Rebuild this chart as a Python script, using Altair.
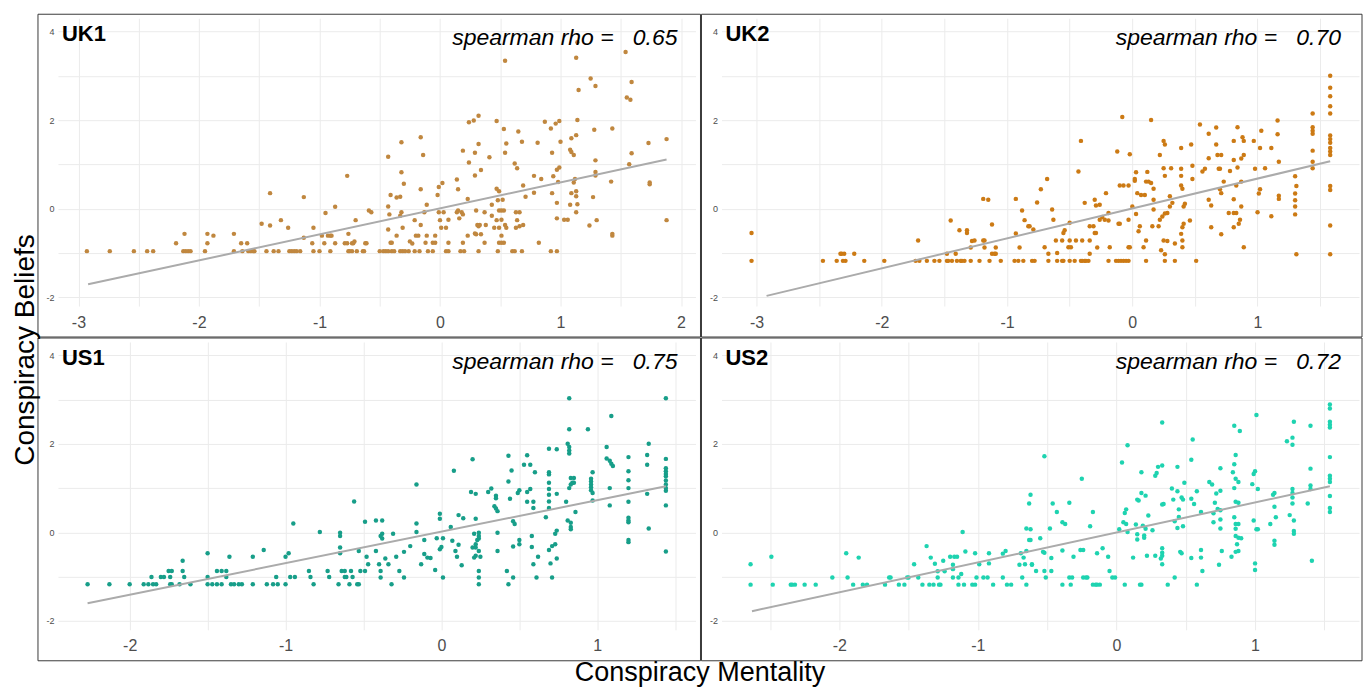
import altair as alt
import pandas as pd

# ---------------- data ----------------
UK1_POINTS = [
    (-2.93,-0.96),(-2.74,-0.96),(-2.54,-0.96),(-2.43,-0.96),(-2.38,-0.96),(-2.19,-0.78),(-2.13,-0.96),(-2.12,-0.57),
    (-2.11,-0.96),(-2.09,-0.96),(-2.07,-0.96),(-1.95,-0.96),(-1.93,-0.78),(-1.93,-0.57),(-1.88,-0.61),(-1.71,-0.57),
    (-1.71,-0.96),(-1.65,-0.78),(-1.64,-0.96),(-1.60,-0.78),(-1.59,-0.96),(-1.57,-0.96),(-1.55,-0.96),(-1.54,-0.96),
    (-1.48,-0.34),(-1.44,-0.96),(-1.41,0.35),(-1.41,-0.38),(-1.38,-0.96),(-1.34,-0.96),(-1.32,-0.26),(-1.26,-0.43),
    (-1.25,-0.96),(-1.23,-0.96),(-1.21,-0.96),(-1.19,-0.96),(-1.16,-0.96),(-1.13,0.26),(-1.13,-0.66),(-1.06,-0.78),
    (-1.05,-0.43),(-1.05,-0.96),(-1.00,-0.96),(-0.98,-0.61),(-0.96,-0.78),(-0.95,-0.10),(-0.93,-0.61),(-0.91,-0.61),
    (-0.91,-0.96),(-0.90,-0.61),(-0.87,0.04),(-0.87,-0.78),(-0.79,-0.78),(-0.77,-0.78),(-0.77,0.74),(-0.76,-0.57),
    (-0.76,-0.96),(-0.75,-0.96),(-0.73,-0.78),(-0.73,-0.96),(-0.72,-0.78),(-0.71,-0.74),(-0.70,-0.26),(-0.69,-0.96),
    (-0.64,-0.96),(-0.63,-0.96),(-0.62,-0.78),(-0.61,-0.78),(-0.59,-0.04),(-0.57,-0.08),
    (1.14,3.76),(1.13,3.41),(0.54,3.34),(1.54,3.54),(1.25,2.94),(1.29,2.77),(1.15,2.68),(1.59,2.86),(1.55,2.51),(1.58,2.46),
    (0.32,2.10),(0.28,1.99),(0.24,1.95),(0.47,1.98),(0.53,1.80),(0.65,1.74),(0.87,1.96),(0.92,1.81),(0.96,1.92),(0.99,1.98),
    (1.14,2.00),(1.13,1.66),(1.09,1.59),(1.28,1.78),(1.43,1.81),
    (-0.32,1.50),(-0.16,1.61),(-0.14,1.21),(-0.43,1.17),(0.19,1.31),(0.32,1.46),(0.29,1.26),(0.41,1.16),(0.55,1.47),
    (0.54,1.26),(0.68,1.51),(0.81,1.49),(1.00,1.51),(0.93,1.26),(1.08,1.33),(1.09,1.28),(1.11,1.21),(1.29,1.09),
    (1.59,1.25),(1.73,1.48),(1.88,1.57),
    (-0.32,0.82),(-0.30,0.56),(-0.16,0.44),(0.24,1.04),(0.34,0.87),(0.29,0.75),(0.14,0.66),(0.15,0.44),(0.02,0.58),
    (-0.01,0.49),(0.62,1.02),(0.64,0.91),(0.78,0.74),(0.84,0.67),(0.69,0.52),(0.71,0.27),(0.78,0.36),(0.47,0.45),
    (0.49,0.39),(0.48,0.19),(0.52,0.20),(0.94,0.73),(0.97,0.88),(0.99,0.93),(0.98,0.60),(0.93,0.35),(0.97,0.13),
    (0.97,-0.22),(1.03,-0.25),(1.06,-0.25),(1.09,0.35),(1.11,0.59),(1.12,0.67),(1.13,0.39),(1.13,0.28),(1.14,0.10),
    (1.13,-0.08),(1.08,0.09),(1.27,0.26),(1.29,0.83),(1.29,0.75),(1.42,0.61),(1.57,1.00),(1.74,0.59),(1.74,0.55),
    (1.24,-0.38),(1.30,-0.26),(1.43,-0.57),(1.43,-0.61),(1.88,-0.26),
    (-0.41,0.31),(-0.43,0.05),(-0.42,-0.13),(-0.43,-0.47),(-0.41,-0.77),(-0.40,-0.77),(-0.36,0.25),(-0.33,0.27),
    (-0.32,-0.08),(-0.33,-0.16),(-0.31,-0.43),(-0.36,-0.61),(-0.25,-0.74),(-0.23,-0.79),(-0.21,-0.26),(-0.20,-0.61),
    (-0.18,-0.61),(-0.16,-0.37),(-0.13,-0.08),(-0.11,0.09),(-0.11,-0.61),(-0.12,-0.77),(-0.06,-0.77),(-0.04,-0.77),
    (-0.04,-0.61),(-0.02,0.31),(-0.01,-0.08),(0.00,-0.26),(0.01,-0.43),(0.03,-0.08),(0.05,-0.43),(0.07,-0.25),
    (0.07,-0.77),(0.14,-0.08),(0.15,-0.04),(0.16,-0.22),(0.18,-0.08),(0.19,-0.13),(0.19,-0.77),(0.23,0.22),
    (0.23,-0.61),(0.30,-0.04),(0.31,-0.37),(0.32,-0.40),(0.33,-0.37),(0.29,-0.56),(0.30,-0.58),(0.34,-0.58),
    (0.37,-0.08),(0.37,-0.77),(0.38,-0.37),(0.43,0.09),(0.43,-0.16),(0.45,-0.43),(0.47,-0.26),(0.49,-0.43),
    (0.49,-0.04),(0.51,-0.04),(0.53,-0.04),(0.51,-0.25),(0.54,-0.37),(0.55,-0.43),(0.51,-0.61),(0.49,-0.77),
    (0.51,-0.77),(0.53,-0.77),(0.63,-0.08),(0.66,-0.08),(0.64,-0.26),(0.63,-0.43),(0.66,-0.40),(0.69,-0.37),(0.82,-0.77),
    (-0.50,-0.96),(-0.47,-0.96),(-0.45,-0.96),(-0.43,-0.96),(-0.40,-0.96),(-0.38,-0.96),(-0.33,-0.96),(-0.31,-0.96),
    (-0.29,-0.96),(-0.26,-0.96),(-0.21,-0.96),(-0.17,-0.96),(-0.10,-0.96),(-0.06,-0.96),(0.05,-0.96),(0.07,-0.96),
    (0.17,-0.96),(0.20,-0.96),(0.32,-0.96),(0.48,-0.96),(0.60,-0.96),(0.62,-0.96),(0.68,-0.96),(0.92,-0.96),(0.97,-0.96),
]

UK2_POINTS = [
    (-3.04,-0.55),(-3.04,-1.18),(-2.47,-1.18),(-2.36,-1.18),(-2.33,-1.02),(-2.32,-1.02),(-2.30,-1.02),(-2.31,-1.18),
    (-2.29,-1.18),(-2.22,-1.02),(-2.14,-1.18),(-1.98,-1.18),(-1.73,-1.18),(-1.71,-0.72),(-1.70,-1.18),(-1.64,-1.18),
    (-1.58,-1.18),(-1.54,-1.18),(-1.48,-1.18),(-1.48,-1.02),(-1.47,-1.18),(-1.45,-0.27),(-1.44,-1.18),(-1.41,-1.02),
    (-1.40,-1.18),(-1.38,-0.49),(-1.37,-1.18),(-1.36,-1.18),(-1.34,-1.18),(-1.32,-0.49),(-1.32,-0.55),(-1.29,-0.88),
    (-1.29,-1.18),(-1.28,-0.73),(-1.26,-0.72),(-1.22,-1.18),(-1.19,0.22),(-1.19,-0.72),(-1.18,-0.72),(-1.18,-0.88),
    (-1.15,0.20),(-1.14,-1.18),(-1.12,-0.36),(-1.12,-1.02),(-1.10,-1.02),(-1.09,-1.02),(-1.09,-0.88),(-1.05,-1.18),
    (-0.94,-1.18),(-0.93,0.22),(-0.93,-0.56),(-0.91,-1.18),(-0.90,-0.88),(-0.88,-0.04),(-0.87,-1.18),(-0.86,-0.26),
    (-0.83,-0.40),(-0.80,-1.18),
    (1.58,3.00),(1.58,2.73),(1.58,2.54),(1.58,2.31),(1.58,2.15),(1.58,1.65),(1.58,1.57),(1.58,1.49),(1.58,1.37),
    (1.58,1.29),(1.58,1.21),(1.58,0.51),(1.58,0.42),(1.58,-0.38),(1.58,-1.03),
    (1.44,2.15),(1.44,1.84),(1.44,1.76),(1.44,1.69),(1.44,1.31),(1.44,1.06),(1.44,0.91),
    (1.30,0.73),(1.31,0.51),(1.30,0.34),(1.30,0.19),(1.30,0.05),(1.30,-0.13),(1.31,-1.03),
    (1.16,1.99),(1.16,1.68),(1.17,1.06),(1.17,0.29),(1.17,0.22),(1.11,1.37),(1.11,-0.17),
    (1.03,1.76),(0.97,1.53),(1.02,1.37),(1.06,0.91),(0.98,0.90),(1.02,0.44),(1.01,0.34),(1.00,-0.08),
    (0.84,1.84),(0.88,1.61),(0.89,1.53),(0.81,1.53),(0.81,1.10),(0.89,1.21),(0.87,1.13),(0.84,0.93),(0.78,0.85),
    (0.87,0.61),(0.83,0.52),(0.81,0.21),(0.87,0.05),(0.77,-0.10),(0.81,-0.10),(0.83,-0.10),(0.86,-0.25),(0.85,-0.34),
    (0.81,-0.42),(0.89,-0.87),
    (0.67,1.83),(0.61,1.69),(0.67,1.45),(0.68,1.21),(0.71,1.21),(0.61,1.14),(0.70,0.90),(0.69,0.90),(0.58,0.90),
    (0.56,0.84),(0.73,0.61),(0.70,0.44),(0.71,0.35),(0.61,0.20),(0.63,0.07),(0.63,-0.42),(0.71,-0.58),
    (0.54,1.90),(0.47,1.45),(0.39,1.37),(0.48,0.97),(0.48,0.67),(0.39,0.90),(0.39,0.74),(0.39,0.52),(0.40,0.45),
    (0.42,0.11),(0.41,0.05),(0.46,-0.27),(0.41,-0.34),(0.40,-0.42),(0.39,-0.57),(0.40,-0.72),(0.40,-0.87),(0.51,-1.18),
    (0.25,1.53),(0.26,1.45),(0.22,1.21),(0.25,0.91),(0.26,0.74),(0.31,0.91),(0.30,0.28),(0.32,0.13),(0.30,0.05),
    (0.28,-0.10),(0.26,-0.11),(0.24,-0.18),(0.22,-0.25),(0.21,-0.40),(0.25,-0.72),(0.28,-0.73),(0.34,-0.79),
    (0.26,-1.03),(0.23,-0.94),(0.26,-1.18),(0.34,-1.18),
    (0.15,2.00),(0.12,0.83),(0.11,0.61),(0.13,0.61),(0.15,0.58),(0.17,0.45),(0.10,0.31),(0.07,0.31),(0.17,0.20),
    (0.17,-0.02),(0.16,-0.40),(0.11,-0.72),(0.09,-0.87),(0.06,-0.40),(0.05,-0.51),(0.03,-0.12),(0.04,0.35),
    (0.02,0.67),(0.03,0.82),(0.02,0.63),(0.00,0.05),(-0.03,-0.25),(-0.03,-0.87),(-0.02,-0.87),(0.11,-1.18),
    (-0.08,2.07),(-0.02,1.23),(-0.12,1.29),(-0.10,0.52),(-0.07,0.52),(-0.03,0.52),(-0.11,-0.34),(-0.10,-0.34),
    (-0.13,-1.18),(-0.11,-1.18),(-0.09,-1.18),(-0.07,-1.18),(-0.05,-1.18),(-0.03,-1.18),
    (-0.21,0.35),(-0.19,-0.10),(-0.19,-0.27),(-0.18,-0.87),(-0.19,-1.18),
    (-0.41,1.53),(-0.43,0.84),(-0.38,0.13),(-0.30,0.20),(-0.29,0.07),(-0.26,0.09),(-0.26,-0.25),(-0.24,-0.19),
    (-0.22,-0.25),(-0.34,-0.40),(-0.31,-0.40),(-0.30,-0.55),(-0.29,-0.55),(-0.28,-0.88),(-0.34,-0.72),(-0.34,-1.02),
    (-0.40,-0.72),(-0.45,-0.72),(-0.41,-1.18),(-0.40,-1.18),(-0.38,-1.18),(-0.37,-1.18),(-0.35,-1.18),
    (-0.50,-0.72),(-0.51,-0.87),(-0.49,-0.87),(-0.50,-0.32),(-0.55,-0.55),(-0.54,-0.49),(-0.56,-0.72),(-0.55,-1.18),
    (-0.50,-1.18),(-0.46,-1.18),(-0.61,-0.72),(-0.60,-1.00),(-0.63,-0.25),(-0.64,-0.02),(-0.68,0.67),(-0.73,0.44),
    (-0.76,0.14),(-0.70,-0.87),(-0.67,-1.02),(-0.60,-1.18),(-0.56,-1.18),(-0.67,-1.18),(-0.78,-1.18),(-0.79,-0.47),(-0.82,-0.40),
]

US1_POINTS = [
    (-2.27,-1.17),(-2.13,-1.17),(-2.00,-1.17),(-1.91,-1.17),(-1.88,-1.17),(-1.86,-1.01),(-1.85,-1.17),(-1.83,-1.17),
    (-1.80,-1.01),(-1.78,-1.01),(-1.75,-0.87),(-1.74,-1.01),(-1.74,-1.17),(-1.73,-0.87),(-1.73,-1.17),(-1.68,-1.17),
    (-1.66,-0.64),(-1.66,-0.87),(-1.65,-1.01),(-1.61,-1.17),(-1.50,-0.47),(-1.50,-1.01),(-1.50,-1.17),(-1.47,-1.17),
    (-1.44,-0.87),(-1.44,-1.17),(-1.41,-0.87),(-1.41,-1.17),(-1.38,-0.87),(-1.38,-1.01),(-1.36,-0.55),(-1.35,-1.17),
    (-1.33,-1.17),(-1.30,-1.17),(-1.28,-1.17),(-1.21,-0.55),(-1.21,-1.17),(-1.14,-0.40),(-1.12,-1.17),(-1.08,-1.17),
    (-1.06,-1.01),(-1.05,-1.17),(-1.00,-0.55),(-1.00,-1.17),(-0.98,-0.47),(-0.97,-1.01),(-0.95,0.20),(-0.94,-1.01),
    (-0.85,-0.87),(-0.84,-1.01),(-0.82,-1.17),(-0.78,0.01),(-0.73,-0.87),(-0.72,-1.01),(-0.66,-1.17),(-0.65,-0.01),
    (-0.65,-0.08),(-0.65,-0.34),(-0.65,-0.47),(-0.64,-0.87),(-0.62,-0.87),(-0.62,-1.01),(-0.61,-1.01),(-0.59,-1.17),
    (-0.58,-0.87),(-0.57,-1.01),(-0.56,0.70),(-0.54,-1.17),(-0.53,-1.17),(-0.53,-0.42),(-0.52,-0.87),(-0.49,0.24),
    (-0.48,-0.55),(-0.47,-0.72),(-0.49,-0.87),
    (0.82,3.03),(1.44,3.03),(1.09,2.63),(0.82,2.33),(0.94,2.33),(0.81,2.00),(0.82,1.93),(0.82,1.85),(0.82,1.78),
    (0.69,1.89),(0.74,1.88),(1.06,1.93),(1.06,1.67),(1.08,1.62),(1.09,1.55),(1.10,1.50),(1.33,2.00),(1.32,1.75),(1.32,1.53),
    (1.20,1.70),(1.20,1.38),(1.20,1.18),(1.20,1.00),(1.20,0.69),(1.20,0.33),(1.20,0.27),(1.20,0.23),(1.20,-0.17),(1.20,-0.22),
    (1.44,1.66),(1.44,1.45),(1.44,1.38),(1.44,1.32),(1.44,1.27),(1.44,1.17),(1.44,1.08),(1.44,1.00),(1.44,0.94),
    (1.44,0.61),(1.44,-0.43),(1.32,0.87),(1.33,0.09),
    (0.20,1.65),(0.08,1.39),(-0.16,1.08),(0.19,0.91),(0.22,0.87),(0.30,0.91),(0.32,0.99),(0.35,0.83),(0.35,0.77),
    (0.34,0.59),(0.35,0.54),(0.36,0.48),(0.43,1.73),(0.45,1.40),(0.43,1.15),(0.44,0.76),
    (0.55,1.74),(0.53,1.53),(0.57,1.53),(0.60,1.36),(0.57,0.98),(0.55,0.91),(0.55,0.69),(0.59,0.69),(0.59,0.55),
    (0.50,0.95),(0.49,0.89),(0.69,1.36),(0.69,1.31),(0.69,1.12),(0.69,0.98),(0.69,0.85),(0.69,0.70),(0.69,0.55),
    (0.74,0.87),(0.80,0.69),(0.83,1.23),(0.84,1.12),(0.82,1.00),(0.83,1.08),(0.85,1.23),(0.85,1.12),(0.86,0.46),
    (0.81,0.27),(0.83,0.22),(0.83,0.12),(0.83,0.07),
    (0.96,1.21),(0.96,1.15),(0.96,1.08),(0.96,1.02),(0.96,0.95),(0.97,0.89),(0.97,0.72),(0.97,1.36),(1.08,1.00),(1.08,0.61),
    (0.67,0.34),(0.74,0.04),(0.73,-0.03),(0.73,-0.27),(0.71,-0.31),(0.69,-0.40),(0.70,-0.70),(0.71,-1.02),(0.74,-0.59),
    (0.61,-1.02),(0.58,-0.08),(0.58,-0.33),(0.59,-0.72),(0.62,-0.55),
    (0.46,0.25),(0.47,0.19),(0.46,-0.32),(0.50,-0.17),(0.50,-0.27),(0.46,-1.02),(0.43,-1.17),(0.42,-0.87),(0.36,-0.01),(0.36,-0.42),
    (0.22,0.31),(0.21,-0.03),(0.24,-0.01),(0.24,-0.08),(0.24,-0.14),(0.23,-0.17),(0.20,-0.34),(0.22,-0.34),(0.22,-0.27),
    (0.24,-0.42),(0.22,-0.53),(0.21,-0.57),(0.25,-0.55),(0.24,-0.87),(0.24,-1.02),(0.24,-1.17),
    (0.11,0.39),(0.14,0.32),(0.06,0.12),(0.07,-0.19),(0.09,-0.42),(0.11,-0.28),(0.10,-0.55),(0.13,-0.74),
    (-0.01,0.42),(-0.01,0.31),(-0.03,-0.13),(0.01,-0.13),(-0.01,-0.38),(0.00,-0.33),(0.01,-1.02),(-0.04,-0.85),
    (-0.16,0.20),(-0.16,0.01),(-0.11,-0.17),(-0.11,-0.49),(-0.09,-0.57),(-0.07,-0.58),(-0.13,-0.72),(-0.20,-0.31),
    (-0.24,-0.44),(-0.29,-0.55),(-0.27,-0.87),(-0.24,-1.02),(-0.32,-1.17),(-0.34,-0.72),(-0.36,-0.59),(-0.39,-0.87),
    (-0.39,-1.02),(-0.40,-0.72),(-0.38,-0.14),(-0.39,-0.08),(-0.38,-0.03),(-0.42,0.27),(-0.38,0.27),(-0.42,-0.42),(-0.31,-0.03),
]

US2_POINTS = [
    (-2.64,-0.72),(-2.64,-1.18),(-2.49,-0.55),(-2.48,-1.18),(-2.35,-1.18),(-2.34,-1.18),(-2.32,-1.18),(-2.25,-1.18),
    (-2.17,-1.18),(-2.05,-1.02),(-1.95,-0.47),(-1.94,-1.02),(-1.90,-1.18),(-1.86,-0.57),(-1.83,-1.18),(-1.80,-1.18),
    (-1.67,-1.18),(-1.64,-1.02),(-1.63,-1.02),(-1.57,-1.18),(-1.53,-1.18),(-1.51,-1.02),(-1.50,-1.02),(-1.46,-0.72),
    (-1.43,-1.02),(-1.40,-1.18),(-1.37,-0.31),(-1.35,-1.18),(-1.32,-1.18),(-1.34,-0.57),(-1.31,-0.71),(-1.29,-0.88),
    (-1.29,-1.02),(-1.28,-1.18),(-1.27,-1.18),(-1.25,-0.64),(-1.24,-0.88),(-1.20,-0.55),(-1.18,-1.02),(-1.18,-0.83),
    (-1.18,-0.73),(-1.17,-0.55),(-1.15,-0.55),(-1.14,-1.18),(-1.14,-1.02),(-1.12,-0.94),(-1.11,0.01),(-1.10,-1.18),
    (-1.09,-0.43),(-1.04,-1.18),(-1.02,-1.18),(-1.02,-0.47),(-1.01,-1.02),(-0.99,-0.72),(-0.96,-1.02),(-0.93,-1.02),
    (-0.92,-0.47),(-0.92,-0.70),(-0.89,-1.18),(-0.82,-0.48),(-0.80,-0.42),(-0.82,-1.02),(-0.79,-1.18),(-0.76,-1.18),
    (-0.70,-0.73),(-0.69,-0.47),(-0.68,-1.02),(-0.67,-0.57),(-0.66,-0.72),(-0.65,-1.18),(-0.65,0.09),(-0.63,0.65),
    (-0.63,-0.17),(-0.65,-0.42),(-0.61,-0.73),
    (1.54,2.89),(1.54,2.80),(1.54,2.50),(1.54,2.43),(1.54,2.37),(1.54,1.70),(1.54,1.28),(1.54,1.21),(1.54,1.14),
    (1.54,0.82),(1.54,0.55),(1.54,0.46),
    (1.40,2.41),(1.40,1.44),(1.40,1.06),(1.40,0.98),(1.41,-0.64),(1.38,0.65),
    (1.28,2.50),(1.27,2.14),(1.27,1.98),(1.23,2.06),(1.27,0.98),(1.27,0.89),(1.27,0.79),(1.27,0.65),(1.28,0.27),
    (1.28,0.03),(1.28,-0.03),(1.25,0.39),
    (1.14,0.89),(1.13,0.85),(1.14,0.58),(1.15,0.34),(1.14,-0.19),(1.14,-0.28),(1.11,0.19),
    (1.01,2.65),(1.00,1.38),(0.99,1.32),(0.98,1.09),(1.02,0.98),(0.99,0.27),(1.01,0.07),(1.02,0.07),(1.00,-0.70),(1.00,-0.85),
    (0.85,2.41),(0.89,2.29),(0.86,1.75),(0.85,1.54),(0.84,1.36),(0.86,1.21),(0.88,1.14),(0.85,1.00),(0.86,0.69),
    (0.88,0.67),(0.85,0.34),(0.86,0.19),(0.88,0.19),(0.86,0.08),(0.86,-0.08),(0.88,-0.12),(0.90,-0.13),(0.87,-0.27),
    (0.88,-0.42),(0.86,-0.44),(0.83,-0.55),
    (0.75,1.45),(0.67,1.14),(0.69,1.08),(0.72,0.88),(0.75,0.94),(0.71,0.67),(0.73,0.53),(0.75,0.50),(0.70,0.43),
    (0.75,0.29),(0.70,0.23),(0.75,0.09),(0.76,-0.42),(0.74,-0.73),
    (0.55,2.10),(0.54,1.64),(0.49,1.12),(0.58,0.93),(0.54,0.76),(0.56,0.64),(0.61,0.46),(0.61,-0.40),(0.61,-0.57),
    (0.62,-0.87),(0.54,-0.58),(0.58,-1.18),
    (0.33,2.48),(0.30,1.48),(0.33,1.51),(0.28,1.28),(0.29,1.34),(0.44,1.48),(0.40,0.99),(0.44,0.93),(0.47,0.79),
    (0.48,0.74),(0.41,0.74),(0.34,0.64),(0.33,0.63),(0.45,0.52),(0.45,0.35),(0.42,0.25),(0.48,0.14),(0.44,0.10),
    (0.33,-0.36),(0.33,-0.46),(0.33,-0.53),(0.32,-0.59),(0.33,-0.72),(0.46,-0.44),(0.47,-0.47),(0.42,-1.02),(0.37,-1.18),
    (0.08,1.97),(0.04,1.58),(0.18,1.36),(0.15,0.74),(0.16,0.72),(0.21,0.83),(0.18,0.89),(0.07,0.52),(0.06,0.44),
    (0.05,0.23),(0.07,0.19),(0.08,0.01),(0.14,0.18),(0.19,0.15),(0.21,0.08),(0.20,-0.07),(0.20,-0.12),(0.15,-0.04),
    (0.15,-0.16),(0.23,0.38),(0.26,0.05),(0.22,-0.53),(0.28,-0.53),(0.12,-0.57),(0.17,-1.18),(0.18,-1.18),(0.06,-1.18),(0.02,0.07),
    (-0.03,-1.02),(-0.01,-1.02),(-0.05,-0.87),(-0.06,-0.55),(-0.10,-0.36),(-0.14,-0.47),(-0.17,0.46),(-0.19,0.14),
    (-0.25,1.21),(-0.21,-1.02),(-0.22,-1.02),(-0.24,-1.02),(-0.17,-1.18),(-0.15,-1.18),(-0.14,-1.18),(-0.12,-1.18),
    (-0.24,-0.40),(-0.26,-0.40),(-0.31,-0.55),(-0.33,-1.18),(-0.34,-1.02),(-0.32,-1.02),(-0.39,0.23),(-0.37,0.19),
    (-0.34,0.67),(-0.39,-0.41),(-0.39,-1.18),
    (-0.43,0.46),(-0.46,0.65),(-0.48,0.09),(-0.52,1.72),(-0.52,-0.46),(-0.53,-0.44),(-0.55,-0.13),(-0.52,-0.87),
    (-0.51,-1.02),(-0.47,-0.87),(-0.47,-0.58),(-0.58,-0.87),(-0.61,-0.72),(-0.62,0.07),(-0.62,-0.17),(-0.62,0.85),
]

PANEL_NAMES = ["UK1", "UK2", "US1", "US2"]
PANEL_POINTS = [UK1_POINTS, UK2_POINTS, US1_POINTS, US2_POINTS]
PANEL_COLORS = ["#C0873F", "#CC7A14", "#179E89", "#1ED3B0"]
RHO_TEXT = ["0.65", "0.70", "0.75", "0.72"]
FIT_X = [[-2.92, 1.88], [-2.92, 1.58], [-2.27, 1.44], [-2.63, 1.54]]
FIT_Y = [[-1.71, 1.11], [-1.97, 1.07], [-1.60, 1.04], [-1.78, 1.04]]
X_DOMAINS = [[-3.17, 2.12], [-3.28, 1.81], [-2.46, 1.63], [-2.85, 1.75]]
X_TICKS = [
    [-3, -2.5, -2, -1.5, -1, -0.5, 0, 0.5, 1, 1.5, 2],
    [-3, -2.5, -2, -1.5, -1, -0.5, 0, 0.5, 1, 1.5],
    [-2, -1.5, -1, -0.5, 0, 0.5, 1, 1.5],
    [-2.5, -2, -1.5, -1, -0.5, 0, 0.5, 1, 1.5],
]
Y_DOMAIN = [-2.2, 4.3]
Y_TICKS = [-2, -1, 0, 1, 2, 3, 4]

# ---------------- layout ----------------
W = 638
H = 288
FONT = "Liberation Sans"


def panel(i, left_pad, right_pad):
    df = pd.DataFrame(PANEL_POINTS[i], columns=["x", "y"])
    fit = pd.DataFrame({"x": FIT_X[i], "y": FIT_Y[i]})
    xs = alt.Scale(domain=X_DOMAINS[i], nice=False, zero=False)
    ys = alt.Scale(domain=Y_DOMAIN, nice=False, zero=False)
    xaxis = alt.Axis(values=X_TICKS[i], title=None, domain=False, ticks=False,
                     labelExpr="datum.value % 1 === 0 ? '' + datum.value : ''",
                     labelFont=FONT, labelFontSize=16, labelColor="#4d4d4d",
                     labelPadding=8, gridColor="#ebebeb", gridWidth=1)
    yaxis = alt.Axis(values=Y_TICKS, title=None, domain=False, ticks=False,
                     labelExpr="datum.value % 2 === 0 ? '' + datum.value : ''",
                     labelFont=FONT, labelFontSize=9, labelColor="#4d4d4d",
                     labelPadding=4, gridColor="#ebebeb", gridWidth=1)
    border = alt.Chart(alt.Data(values=[{"b": 1}])).mark_rect(
        fill="transparent", stroke="#3a3a3a", strokeWidth=1
    ).encode(x=alt.value(-left_pad), x2=alt.value(W + right_pad),
             y=alt.value(-4), y2=alt.value(H + 31))
    pts = alt.Chart(df).mark_circle(size=20, color=PANEL_COLORS[i], opacity=1).encode(
        x=alt.X("x:Q", scale=xs, axis=xaxis),
        y=alt.Y("y:Q", scale=ys, axis=yaxis),
    )
    line = alt.Chart(fit).mark_line(color="#ababab", strokeWidth=2).encode(
        x=alt.X("x:Q", scale=xs), y=alt.Y("y:Q", scale=ys)
    )
    name = alt.Chart(alt.Data(values=[{"t": PANEL_NAMES[i]}])).mark_text(
        align="left", baseline="middle", font=FONT, fontSize=22, fontWeight="bold", color="black"
    ).encode(x=alt.value(4), y=alt.value(16), text="t:N")
    rho = alt.Chart(alt.Data(values=[{"t": "spearman rho = \u00a0\u00a0" + RHO_TEXT[i]}])).mark_text(
        align="right", baseline="middle", font=FONT, fontSize=23, fontStyle="italic", color="black"
    ).encode(x=alt.value(W - 18), y=alt.value(20), text="t:N")
    return alt.layer(border, pts, line, name, rho).properties(width=W, height=H)


row1 = alt.hconcat(panel(0, 20, 5), panel(1, 20, 3), spacing=-1)
row2 = alt.hconcat(panel(2, 20, 5), panel(3, 20, 3), spacing=-1)
grid = alt.vconcat(row1, row2, spacing=-1,
                   title=alt.TitleParams("Conspiracy Mentality", orient="bottom", anchor="middle",
                                         font=FONT, fontSize=27, fontWeight="normal",
                                         color="black", offset=-1))
chart = alt.vconcat(grid, spacing=0,
                    title=alt.TitleParams("Conspiracy Beliefs", orient="left", anchor="middle",
                                          font=FONT, fontSize=28, fontWeight="normal",
                                          color="black", offset=-3)).properties(
    padding={"left": 4, "top": 5, "right": 0, "bottom": 0}
).configure_view(strokeWidth=0)

chart.save("out.html", embed_options={"renderer": "svg", "actions": False})
